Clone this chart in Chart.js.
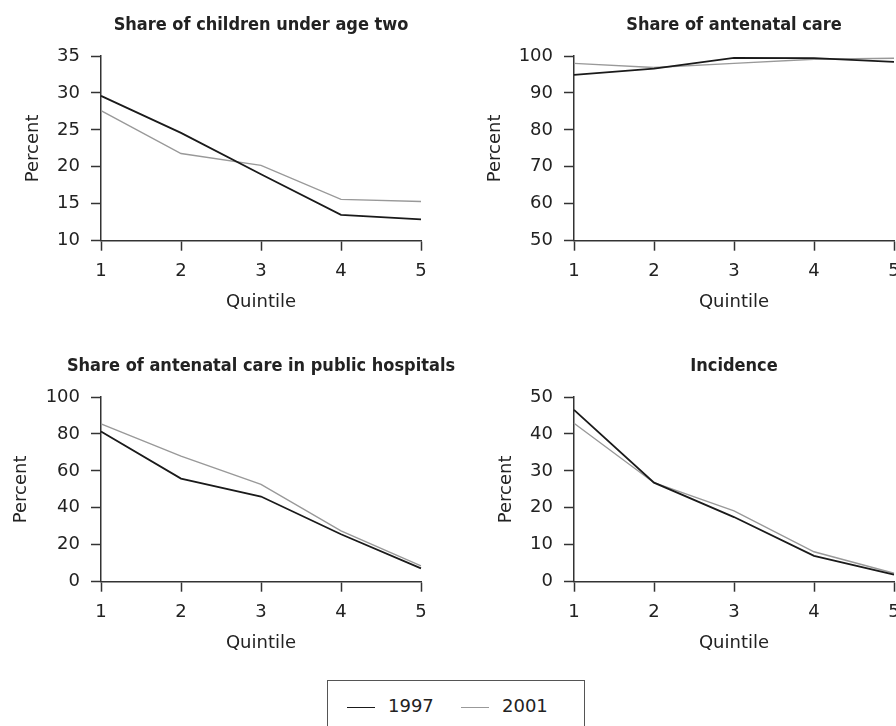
<!DOCTYPE html>
<html>
<head>
<meta charset="utf-8">
<script src="https://cdn.jsdelivr.net/npm/chart.js@4.4.0/dist/chart.umd.min.js"></script>
<style>
  html, body { margin: 0; padding: 0; background: #fff; }
  #page { position: relative; width: 896px; height: 726px; overflow: hidden; background: #fff; }
  .panel { position: absolute; width: 470px; height: 320px; }
  #legendBox {
    position: absolute; left: 327px; top: 680px; width: 256px; height: 60px;
    border: 1.5px solid #555; font: 18px "DejaVu Sans", sans-serif; color: #222;
  }
  .item { position: absolute; top: 13px; height: 24px; line-height: 24px; }
  .swatch { display: inline-block; width: 28px; vertical-align: middle; margin-right: 13px; }
</style>
</head>
<body>
<div id="page">
  <div class="panel" style="left:0;top:0"><canvas id="c1"></canvas></div>
  <div class="panel" style="left:473px;top:0"><canvas id="c2"></canvas></div>
  <div class="panel" style="left:0;top:341px"><canvas id="c3"></canvas></div>
  <div class="panel" style="left:473px;top:341px"><canvas id="c4"></canvas></div>
  <div id="legendBox"></div>
</div>
<script>
// x axis categories
const quintiles = ['1', '2', '3', '4', '5'];
const seriesNames = ['1997', '2001'];
const seriesColors = ['#1a1a1a', '#999999'];
const seriesWidths = [1.8, 1.4];

// values (percent)
const childrenUnderTwo1997 = [29.6, 24.6, 19.0, 13.5, 12.9];
const childrenUnderTwo2001 = [27.6, 21.8, 20.2, 15.6, 15.3];
const antenatal1997 = [94.9, 96.6, 99.5, 99.4, 98.4];
const antenatal2001 = [98.0, 96.9, 98.0, 99.1, 99.4];
const publicHospitals1997 = [81.3, 55.8, 46.1, 25.7, 7.2];
const publicHospitals2001 = [85.5, 68.0, 52.7, 27.5, 8.6];
const incidence1997 = [46.5, 26.8, 17.5, 7.0, 1.9];
const incidence2001 = [42.9, 26.8, 19.2, 8.1, 2.3];

const panelTitles = [
  'Share of children under age two',
  'Share of antenatal care',
  'Share of antenatal care in public hospitals',
  'Incidence'
];
// y axis ranges: [min, max, step]
const yRanges = [[10, 35, 5], [50, 100, 10], [0, 100, 20], [0, 50, 10]];

const tickFont = { family: 'DejaVu Sans', size: 18 };

// panel title centred over the plot area (the built-in title squeezes long text)
const plotTitle = {
  id: 'plotTitle',
  afterDraw(chart, args, opts) {
    const { ctx, chartArea } = chart;
    ctx.save();
    ctx.font = 'bold 18px "DejaVu Sans Condensed", "DejaVu Sans", sans-serif';
    ctx.fillStyle = '#222';
    ctx.textAlign = 'center';
    ctx.textBaseline = 'middle';
    ctx.fillText(opts.text, (chartArea.left + chartArea.right) / 2, opts.y);
    ctx.restore();
  }
};

function makePanel(id, title, s1997, s2001, range, yWidth) {
  const axisX = 101;
  return new Chart(document.getElementById(id), {
    type: 'line',
    data: {
      labels: quintiles,
      datasets: [
        { label: seriesNames[0], data: s1997, borderColor: seriesColors[0], borderWidth: seriesWidths[0] },
        { label: seriesNames[1], data: s2001, borderColor: seriesColors[1], borderWidth: seriesWidths[1] }
      ]
    },
    options: {
      responsive: false,
      animation: false,
      layout: { padding: { left: axisX - yWidth, right: 49, top: 56, bottom: 0 } },
      elements: { point: { radius: 0 }, line: { tension: 0 } },
      plugins: {
        legend: { display: false },
        tooltip: { enabled: false },
        plotTitle: { text: title, y: 25 }
      },
      scales: {
        x: {
          offset: false,
          afterFit: (scale) => { scale.height = 79.3; },
          grid: { drawOnChartArea: false, drawTicks: true, tickLength: 10, tickWidth: 1.5, tickColor: '#333' },
          border: { display: true, color: '#333', width: 1.5 },
          ticks: { color: '#222', font: tickFont, padding: 10, maxRotation: 0 },
          title: { display: true, text: 'Quintile', color: '#222', font: tickFont, padding: { top: 0, bottom: 6.5 } }
        },
        y: {
          min: range[0], max: range[1],
          afterFit: (scale) => { scale.width = yWidth; },
          grid: { drawOnChartArea: false, drawTicks: true, tickLength: 10, tickWidth: 1.5, tickColor: '#333' },
          border: { display: true, color: '#333', width: 1.5 },
          ticks: { stepSize: range[2], color: '#222', font: tickFont, padding: 11 },
          title: { display: true, text: 'Percent', color: '#222', font: tickFont, padding: { top: 0, bottom: 0 } }
        }
      }
    },
    plugins: [plotTitle]
  });
}

function sizeCanvas(id) {
  const c = document.getElementById(id);
  c.width = 470; c.height = 320;
  c.style.width = '470px'; c.style.height = '320px';
}
['c1', 'c2', 'c3', 'c4'].forEach(sizeCanvas);

makePanel('c1', panelTitles[0], childrenUnderTwo1997, childrenUnderTwo2001, yRanges[0], 78);
makePanel('c2', panelTitles[1], antenatal1997, antenatal2001, yRanges[1], 89.5);
makePanel('c3', panelTitles[2], publicHospitals1997, publicHospitals2001, yRanges[2], 90);
makePanel('c4', panelTitles[3], incidence1997, incidence2001, yRanges[3], 78);

// legend box at the bottom
const legendBox = document.getElementById('legendBox');
const itemLefts = [19, 133];
seriesNames.forEach((name, i) => {
  const item = document.createElement('div');
  item.className = 'item';
  item.style.left = itemLefts[i] + 'px';
  const sw = document.createElement('span');
  sw.className = 'swatch';
  sw.style.borderTop = seriesWidths[i] + 'px solid ' + seriesColors[i];
  item.appendChild(sw);
  item.appendChild(document.createTextNode(name));
  legendBox.appendChild(item);
});
</script>
</body>
</html>
